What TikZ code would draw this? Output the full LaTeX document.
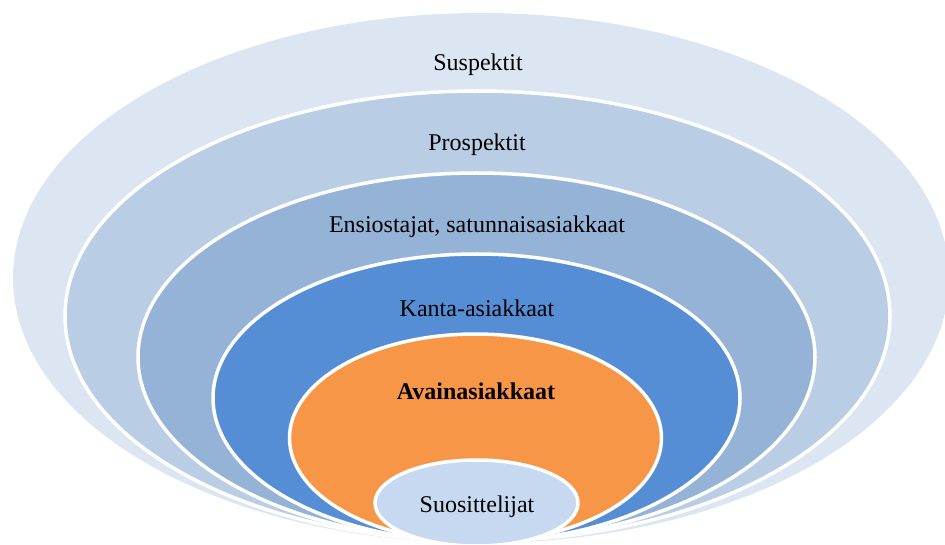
\documentclass[tikz,border=0pt]{standalone}
\usepackage{fontspec}
\setmainfont{Liberation Serif}
\definecolor{ringA}{HTML}{DCE6F2}
\definecolor{ringB}{HTML}{B9CDE5}
\definecolor{ringC}{HTML}{95B3D7}
\definecolor{ringD}{HTML}{558ED5}
\definecolor{ringE}{HTML}{F79646}
\definecolor{ringF}{HTML}{C6D9F1}
\begin{document}
\begin{tikzpicture}[x=1pt,y=-1pt,
  ring/.style={draw=white,line width=3.5pt},
  lbl/.style={font=\fontsize{24}{27}\selectfont,text=black,inner sep=0pt}]
\useasboundingbox (0,0) rectangle (945,545);
\begin{scope}
\clip (0,0) rectangle (945,545);
% nested rings, all touching at the bottom
\fill[ringA] (481,278) ellipse [x radius=468, y radius=265];
\filldraw[ring,fill=ringB] (477.5,316) ellipse [x radius=412.5, y radius=225];
\filldraw[ring,fill=ringC] (476.5,357) ellipse [x radius=338.5, y radius=184];
\filldraw[ring,fill=ringD] (476.5,398) ellipse [x radius=263.5, y radius=144];
\filldraw[ring,fill=ringE] (475.5,438) ellipse [x radius=186, y radius=104];
\filldraw[ring,fill=ringF] (476.5,503) ellipse [x radius=101.5, y radius=43];
\end{scope}
\node[lbl] (sus) at (478,65) {Suspektit};
\node[lbl] (pro) at (477,145) {Prospektit};
\node[lbl] (ens) at (477,227) {Ensiostajat, satunnaisasiakkaat};
\node[lbl] (kan) at (477,308) {Kanta-asiakkaat};
\node[lbl,font=\fontsize{24}{27}\selectfont\bfseries] (ava) at (476,391) {Avainasiakkaat};
\node[lbl] (suo) at (477,507) {Suosittelijat};
\end{tikzpicture}
\end{document}
